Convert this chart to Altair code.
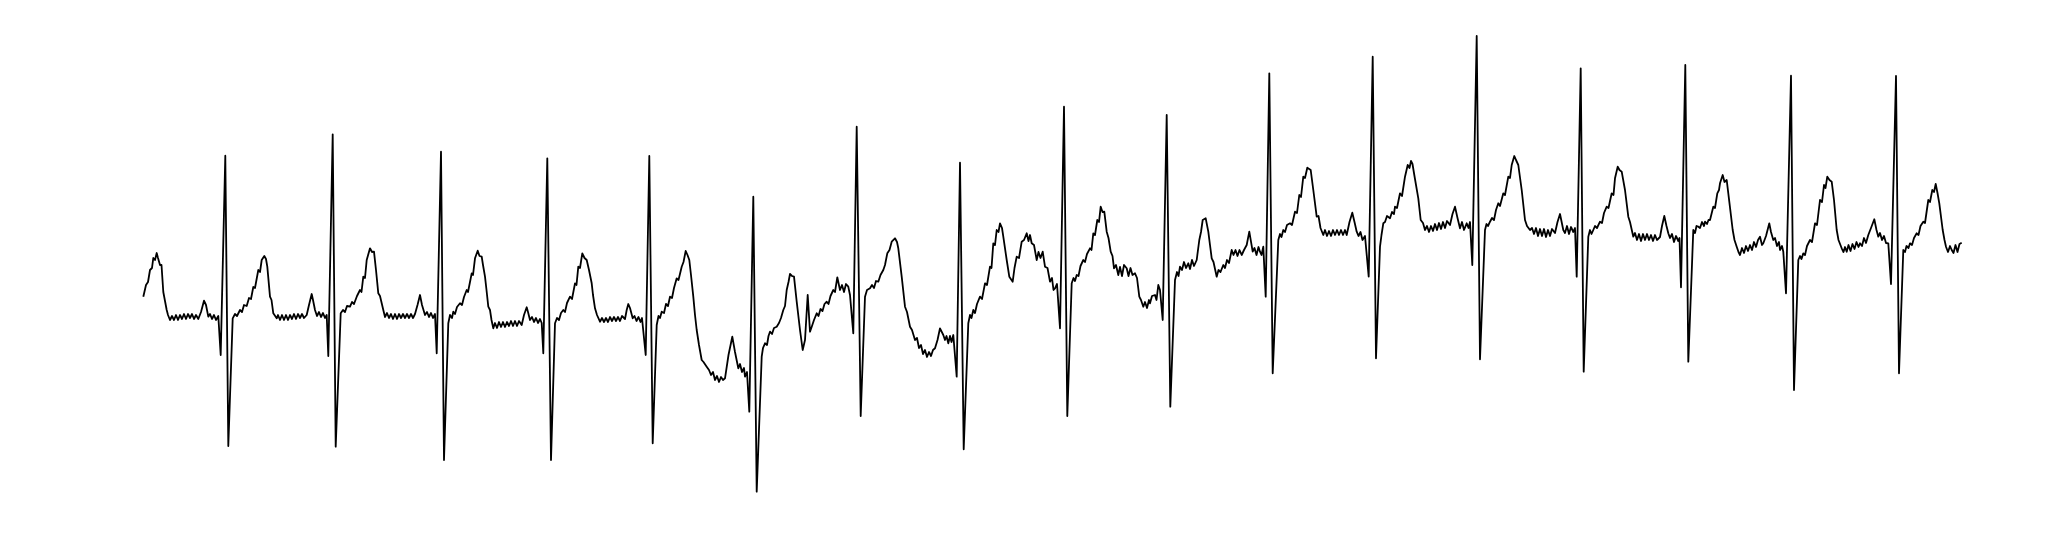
import altair as alt
import pandas as pd

# ECG trace, one list per heartbeat:
# (sample index, raw deflection reading; larger reading = lower on the trace)
beat_00 = [(143.3,296.7),(146,285),(148,282),(150,270),(152,268),(153.3,258),(155,260),(156.7,253),(158,258),(160,265),(161.5,265),(163.3,292),(166.7,310),(168,315),(170,320),
    (172,316),(174,320),(176,315),(178,320),(180,315),(182,319),(184,314),(186,319),(188,314),(190,318),(192,314),(194,319),(196,315),(198.3,319),
    (201,312),(204,300.7),(206,305),(208.3,316.7),(210,314),(212,319),(214,315),(216,320),(218.3,316),(220.7,355),(225.3,155.7),(228.3,446)]
beat_01 = [(232.7,318.3),(235,314),(237,316),(240,310),(242,312),(244,305),(246.7,306),(249,298),(251,299),(253.3,287),(255,288),(258.3,270),(260,272),(261.7,260),(264.3,256),(266,259),(267.3,266.7),(270,296.7),(271.5,300),(273.3,313.3),(276.7,318.3),
    (278,315),(280,320),(282,315),(284,320),(286,315),(288,320),(290,315),(292,319),(294,314),(296,319),(298,314),(300,318),(302,314),(304,318),(306.7,315),(309,305),(311.7,294),(313,300),(315,310),(317,316),(319,312),(321,317),(323,313),(325,318),(326.7,315),(328.3,356),(332.7,134.3),(335.7,446.7)]
beat_02 = [(340.7,313.3),(343,310),(345,312),(347,306),(350,306.7),(352,302),(354,304),(357,296),(360,290),(361.5,292),(363.3,276.7),(365,278),(366.7,260),(370,248.3),(372,252),(374,251.7),(376,270),(378.3,293.3),(380,296),(383.3,310),
    (385,317),(387,313),(389,318),(391,314),(393,319),(395,314),(397,319),(399,314),(401,318),(403,314),(405,318),(407,314),(409,318),(411,314),(413,318),(415,314),(417.5,305),(420,295),(422,305),(425,315),(427,312),(429,317),(431,313),(433,318),(435,314),(436.7,353.3),(441,151.7),(444,460)]
beat_03 = [(448.3,323.3),(450,315),(452,318),(453.3,311.7),(455,314),(457,307),(460,303.3),(462,305),(464,297),(466.7,290),(468,292),(470,282),(471.7,273.3),(473,275),(475,258.3),(477.7,250.7),(479.5,256),(481.7,256.7),(483,265),(485,276.7),(486.5,290),(488.3,306.7),(490,310),(491.5,320),(493.3,328.3),
    (495,323),(497,328),(499,322),(501,327),(503,322),(505,327),(507,322),(509,326),(511,321),(513,326),(515,321),(517,326),(519,321),(521.7,325),(524,315),(526.7,307.3),(528,312),(530,320),(532,317),(534,322),(536,318),(538,323),(540,319),(541.7,323),(543.3,353.3),(547.3,158.3),(551,460)]
beat_04 = [(555,323.3),(557,318),(559,320),(561,313),(563.3,310),(565,312),(567,303),(570,296.7),(572,299),(575,283.3),(576.5,285),(578.3,266.7),(580,268),(582.3,253.3),(584.5,258),(586.7,260),(589,270),(591.7,283.3),(593,295),(595,308.3),(597,315),(600,321.7),
    (602,318),(604,322),(606,318),(608,322),(610,317),(612,321),(614,317),(616,321),(618,317),(620,321),(622,316),(625,319),(626.7,310),(628.3,304),(630,308),(632.7,318.3),(634.5,316),(636.5,321),(638.5,317),(640.5,322),(642,318),(645.7,355),(649.3,156),(652.7,443.3)]
beat_05 = [(656.7,325),(658.5,316),(660,318),(661.7,311.7),(664,313),(666,304),(668,306),(670,296.7),(672,298),(674,288),(676.7,278.3),(678.5,280),(681.7,266.7),(683.5,262),(685.7,251),(687.5,255),(689.3,260),(691,275),(693.3,296.7),(695,315),(696.7,330),(699,345),(701.7,360),(703.5,362),(706.7,366.7),
    (709,370),(711,375),(713,372),(715,380),(717,376),(719,382),(721,377),(723,380),(725,378.3),(728.5,355),(732.3,336.7),(735,352),(738.3,368.3),(740,364),(742,372),(744,368),(745,376.7),(747,372),(749.3,411.7),(753.3,196.7),(756.7,491.7)]
beat_06 = [(761.7,356.7),(763,348),(765,343.3),(767,345),(768.5,336),(770,331.7),(772,334),(774,328),(776.7,326.7),(779,323),(781,318),(783.3,310),(785,306),(786.7,290),(788.5,282),(790,274),(792,276),(794,276.7),(796.7,301.7),(800,330),(802.7,350),(805,340),(807.7,295),(810,331.7),
    (812,326),(814,320),(816.7,313.3),(818.5,316),(820.5,309),(822.5,311),(824.5,304),(826.7,301.7),(828.5,304),(830.5,296),(833.3,290),(835,292),(837.3,277.3),(840,290),(842,285),(844,292),(846,284),(848.3,286.7),(850,295),(853.3,333.3),(856.7,126.7),(860.7,416)]
beat_07 = [(865,296.7),(867,290),(870,288.3),(872,285),(874,288),(876,281),(878.3,281.7),(880.5,275),(883.3,270),(885,265),(887.3,253.3),(889.5,250),(891.7,241.7),(895,238.3),(897,242),(898.3,248.3),(901.7,276.7),(905,306.7),(907,312),(910,326.7),(912,330),(915,340),
    (917,338),(919,348),(921,345),(923,354),(925,350),(927,357),(929,352),(931,356),(933,350),(935,348.3),(937.5,340),(940,328.3),(943.3,335),(945,340),(946.5,336),(948.3,343.3),(950,336),(951.5,342),(953.3,335),(956.7,376.7),(960,162.7),(963.7,449.3)]
beat_08 = [(968.3,323.3),(970,315),(971.5,318),(973.3,310),(975,313),(977,304),(980,296.7),(982,299),(985,283.3),(987,285),(990,266.7),(991.5,268),(993.3,243.3),(995,245),(996.7,230),(998.5,232),(1000,223.3),(1002,228),(1003.3,236.7),(1006.7,260),(1009.3,276.7),(1012.7,281.7),
    (1014.5,268),(1016.7,256.7),(1019,258),(1021.7,241.7),(1024,240),(1026.7,233.3),(1028.5,241),(1030,235),(1031.7,243.3),(1034,245),(1036.7,260),(1038.5,252),(1040.5,258),(1042.7,251.7),(1045,266.7),(1047.5,268),(1050,281.7),(1052,278),(1053.5,290),(1055,288.3),(1057,284),(1060,328.3),(1064,106.7),(1067.3,416)]
beat_09 = [(1071.7,283.3),(1073.5,278),(1075,281),(1076.7,275),(1078.5,276),(1080.5,266),(1083.3,260),(1085,262),(1087,254),(1090,248.3),(1091.5,250),(1093.3,233.3),(1095,235),(1097.3,220),(1099,222),(1100.7,206.7),(1102.5,212),(1104.3,211.7),(1106.7,231.7),(1108.5,238),(1110.7,251.7),(1112.5,256),(1114,268.3),
    (1116,265),(1118.3,275),(1120,267),(1122,276),(1124,265),(1126.7,268.3),(1128.5,276),(1130.5,268),(1132.5,275),(1135,273.3),(1137,278),(1139.3,296.7),(1141,300),(1143.3,306.7),(1145,302),(1147,308),(1149,300),(1150,303.3),(1152,296),(1155,295),(1156.5,300),(1158.3,285),(1160,290),(1162.7,320),(1166.7,115),(1170.3,406.7)]
beat_10 = [(1175,280),(1177,272),(1178.5,276),(1180,266.7),(1182,270),(1184,262),(1186,268),(1188.3,263.3),(1190,269),(1192,260),(1194,266),(1196.7,260),(1199.3,240),(1201,232),(1202.7,220),(1205.7,218.3),(1208.3,231.7),(1210,245),(1211.7,258.3),(1213.5,262),(1216.7,276.7),
    (1218.5,270),(1220.5,272),(1223.3,265),(1225,268),(1227,260),(1229,263),(1231.7,250),(1233.5,255),(1235.5,250),(1237.5,256),(1239.5,250),(1241.7,255),(1244,250),(1246.7,245),(1249.3,231.7),(1252.7,251.7),(1254.5,248),(1256.5,255),(1258.5,247),(1260,251.7),(1261.5,255),(1263.3,246.7),(1265.7,296.7),(1269.3,73.3),(1272.7,373.3)]
beat_11 = [(1278.3,240),(1280,234),(1281.5,237),(1283.3,230),(1285,232),(1287,225),(1290,223.3),(1292,225),(1295,211.7),(1297,213),(1299.3,195),(1301,197),(1303.3,176.7),(1305,178),(1307.3,167.7),(1310.7,170),(1313.3,190),(1316.7,216.7),(1318.5,216),(1320.5,228),(1323.3,235),
    (1325,230),(1327,236),(1329,231),(1331,236),(1333,230),(1335,235),(1337,230),(1339,235),(1341,230),(1343,235),(1345,230),(1346.7,235),(1349.5,222),(1352.3,212.7),(1354.5,222),(1356.7,231.7),(1358.5,236),(1360.5,232),(1362.5,240),(1365,236),(1368.7,276.7),(1372.7,56.7),(1376,358.3)]
beat_12 = [(1380,246.7),(1381.5,235),(1383.3,223.3),(1385,222),(1387,216),(1390,218.3),(1392,212),(1394,214),(1395,206.7),(1397,208),(1400,193.3),(1402,196),(1405,176.7),(1407.7,165),(1409.5,168),(1411,161),(1412.5,164),(1414.3,175),(1418.3,198.3),(1420.7,220),(1423,223),
    (1425,230),(1427,226),(1429,232),(1431,226),(1433,231),(1435,224),(1437,230),(1439,223),(1441,229),(1443,222),(1445,228),(1447,221),(1450,225),(1452.5,214),(1455,206.7),(1457.5,218),(1460,228.3),(1462,222),(1464,230),(1466.7,223.3),(1468.5,228),(1470,222),(1472.3,265),(1476.7,36),(1480,359.3)]
beat_13 = [(1485,230),(1486.5,224),(1488,226),(1490,221.7),(1492,218),(1494,220),(1496,210),(1498.3,203.3),(1500,206),(1503.3,193.3),(1505,195),(1508.3,176.7),(1510,178),(1511.7,165),(1514.3,156),(1516,160),(1518.3,165),(1521.7,190),(1525,220),(1527,226),
    (1530,230),(1532,228),(1534,234),(1536,228),(1538,236),(1540,229),(1542,236),(1544,229),(1546,237),(1548,230),(1550,236),(1552,229),(1555,233),(1557.5,222),(1560,214),(1563.3,230),(1565,233),(1567,226),(1569,234),(1571,227),(1573.3,232),(1575,228),(1576.7,276.7),(1580.7,68.3),(1583.7,371.7)]
beat_14 = [(1588.3,236.7),(1590,230),(1591.5,234),(1593.3,230),(1595,226),(1597,228),(1600,221.7),(1602,223),(1604,213),(1606.7,206.7),(1608.5,208),(1611.7,193.3),(1613.5,195),(1615,178.3),(1617.7,166.7),(1619.5,170),(1621.7,171.7),(1625,190),(1628.3,216.7),(1630,222),
    (1633.3,236.7),(1635,233),(1637,240),(1639,234),(1641,241),(1643,234),(1645,240),(1647,234),(1649,240),(1651,235),(1653,241),(1655,235),(1657,240),(1660,237),(1662,226),(1664.3,216),(1666.5,226),(1668.3,233.3),(1670,238),(1672,234),(1674,242),(1676,236),(1678.3,241),(1679.5,238),(1681,287.3),(1685.3,65),(1688.3,361.7)]
beat_15 = [(1693.3,230),(1695,233),(1696.5,226),(1698.3,226.7),(1700,228),(1702,222),(1704,226),(1705,221.7),(1707,224),(1708.5,220),(1710,220),(1711.5,214),(1713.3,206.7),(1715,208),(1717.3,193.3),(1719,190),(1720,183.3),(1722.7,175),(1724.5,182),(1726.7,180),(1729.3,201.7),(1732.7,230),(1734.5,240),(1736.7,246.7),(1738.5,252),
    (1740,255),(1742,248),(1744,253),(1746,246),(1748,251),(1750,245),(1752,250),(1754,242),(1756,247),(1758,240),(1760,236.7),(1762,245),(1763.3,243.3),(1766,236),(1769.3,223.3),(1771,232),(1773.3,240),(1775,238),(1777,246),(1779,242),(1780,250),(1782,246),(1783.3,251.7),(1786,293.3),(1791,75.7),(1794,390)]
beat_16 = [(1798.3,260),(1800,256),(1801.5,259),(1803.3,253.3),(1805,255),(1807,246),(1810,240),(1812,242),(1815,223.3),(1817,225),(1820,200),(1822,202),(1824,185),(1825.5,188),(1827.3,176.7),(1829.5,180),(1831.7,181.7),(1834,200),(1836.7,230),(1838.5,240),(1841.7,248.3),
    (1843.5,252),(1845,247),(1846.7,251.7),(1848.5,245),(1850.5,251),(1852.5,244),(1854.5,249),(1856.5,242),(1858.5,247),(1860,243.3),(1862,246),(1864,238),(1866,243),(1868.3,235),(1871,228),(1874.3,219.3),(1876.5,230),(1878.3,236.7),(1880,233),(1882,240),(1884,236),(1886,243),(1888.3,243.3),(1891,284),(1896,76),(1899,373.3)]
beat_17 = [(1903.3,250),(1905,252),(1906.5,246),(1908.5,248),(1910,243.3),(1912,245),(1914,238),(1916.7,233.3),(1918.5,235),(1920.5,226),(1923.3,221.7),(1925,223),(1928.3,200),(1930,202),(1932.3,190),(1934,192),(1935.7,184),(1937.5,193),(1939.3,203.3),(1942.7,230),(1944.5,240),(1946,246.7),
    (1948,252),(1950,246),(1951.7,250),(1953.5,253),(1955.5,245),(1957.5,252),(1959.5,244),(1961.7,242.7)]

beats = [beat_00, beat_01, beat_02, beat_03, beat_04, beat_05, beat_06, beat_07, beat_08,
         beat_09, beat_10, beat_11, beat_12, beat_13, beat_14, beat_15, beat_16, beat_17]

SAMPLE_RATE = 250.0   # samples per second
ZERO_LEVEL = 320.0    # raw reading of 0 mV
UNITS_PER_MV = 100.0  # raw reading units per millivolt

rows = []
for b in beats:
    for s, r in b:
        rows.append({"time": s / SAMPLE_RATE, "mv": (ZERO_LEVEL - r) / UNITS_PER_MV})
df = pd.DataFrame(rows)

chart = (
    alt.Chart(df)
    .mark_line(color="black", strokeWidth=1.8, strokeJoin="round", interpolate="linear", clip=True)
    .encode(
        x=alt.X("time:Q", axis=None, scale=alt.Scale(domain=[8 / SAMPLE_RATE, 2008 / SAMPLE_RATE], nice=False, zero=False)),
        y=alt.Y("mv:Q", axis=None, scale=alt.Scale(domain=[-1.88, 3.12], nice=False, zero=False)),
        order=alt.Order("time:Q"),
    )
    .properties(width=2000, height=500, autosize=alt.AutoSizeParams(type="none"), padding=0, background="white")
    .configure_view(stroke=None)
)

chart.save("out.html", embed_options={"renderer": "svg", "actions": False})
